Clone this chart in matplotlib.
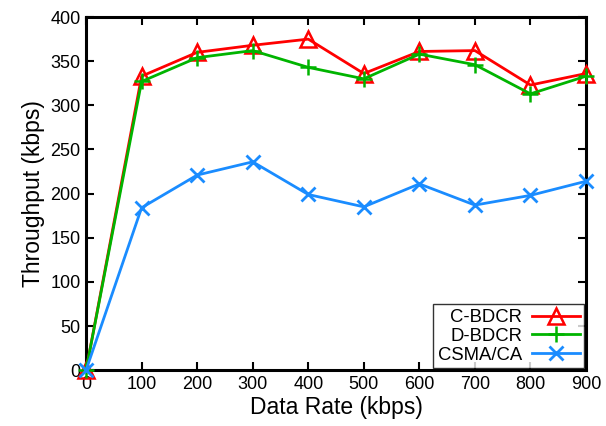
import matplotlib
matplotlib.use("Agg")
import matplotlib.pyplot as plt

plt.rcParams['font.family'] = ['Liberation Sans', 'DejaVu Sans']

rates = [0, 100, 200, 300, 400, 500, 600, 700, 800, 900]
c_bdcr = [0, 333, 360, 368, 375, 336, 361, 362, 323, 336]
d_bdcr = [0, 327, 354, 362, 343, 330, 358, 346, 313, 333]
csma = [0, 184, 221, 236, 199, 185, 211, 187, 198, 214]

fig = plt.figure(figsize=(6.06, 4.26), dpi=100)
ax = fig.add_axes([0.142, 0.131, 0.825, 0.829])

ax.plot(rates, c_bdcr, color='#ff0000', lw=2, marker='^', ms=11, mfc='none', mew=1.8, label='C-BDCR', clip_on=False, zorder=3)
ax.plot(rates, d_bdcr, color='#00b400', lw=2, marker='+', ms=12, mew=1.8, label='D-BDCR', clip_on=False, zorder=3)
ax.plot(rates, csma, color='#1a8cff', lw=2, marker='x', ms=10, mew=2, label='CSMA/CA', clip_on=False, zorder=3)

ax.set_xlim(0, 900)
ax.set_ylim(0, 400)
ax.set_xticks(range(0, 901, 100))
ax.set_yticks(range(0, 401, 50))
ax.tick_params(direction='in', top=True, right=True, length=6, width=1.5, labelsize=13, pad=4)
for s in ax.spines.values():
    s.set_linewidth(2.2)
ax.set_xlabel('Data Rate (kbps)', fontsize=16.5, labelpad=2)
ax.set_ylabel('Throughput (kbps)', fontsize=16.5, labelpad=4)

leg = ax.legend(loc='lower right', markerfirst=False, fontsize=13.3, frameon=True,
                fancybox=False, edgecolor='black', handlelength=2.6, borderpad=0.25,
                labelspacing=0.1, handletextpad=0.5, borderaxespad=0.1)
leg.get_frame().set_linewidth(1)

fig.savefig('out.png', dpi=100)
